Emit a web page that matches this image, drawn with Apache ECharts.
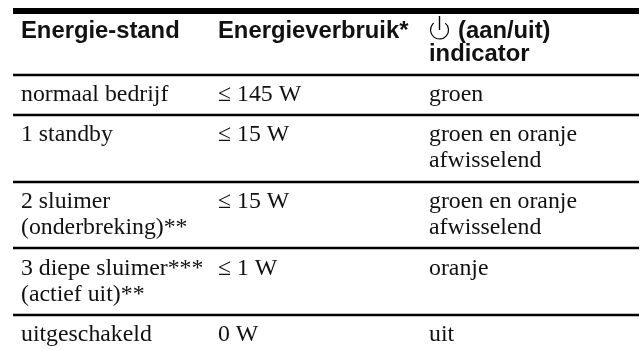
<!DOCTYPE html>
<html>
<head>
<meta charset="utf-8">
<style>
html,body{margin:0;padding:0;background:#fff;overflow:hidden;}
#chart{width:642px;height:350px;}
</style>
<script src="https://cdn.jsdelivr.net/npm/echarts@6/dist/echarts.min.js"></script>
</head>
<body>
<div id="chart"></div>
<script>
var headers = [['Energie-stand'], ['Energieverbruik*'], ['(aan/uit)', 'indicator']];
var modes = [['normaal bedrijf'], ['1 standby'], ['2 sluimer', '(onderbreking)**'], ['3 diepe sluimer***', '(actief uit)**'], ['uitgeschakeld']];
var power = [['≤ 145 W'], ['≤ 15 W'], ['≤ 15 W'], ['≤ 1 W'], ['0 W']];
var indicator = [['groen'], ['groen en oranje', 'afwisselend'], ['groen en oranje', 'afwisselend'], ['oranje'], ['uit']];

// layout of the table, in pixels
var colX = [21, 218, 429];
var ruleY = [75, 115, 182, 248, 315];
var baseY = [102, 142, 209, 276, 342];
var lineGap = 26;
var textTop = 19; // distance from the top of the text box to its baseline

var cells = [];
modes.forEach(function (m, i) {
    [m, power[i], indicator[i]].forEach(function (lines, c) {
        lines.forEach(function (t, k) {
            cells.push([colX[c], baseY[i] + k * lineGap - textTop, t, 0]);
        });
    });
});
headers.forEach(function (lines, c) {
    lines.forEach(function (t, k) {
        cells.push([c == 2 && k == 0 ? 458 : colX[c], 38 + k * 23 - textTop, t, 1]);
    });
});

var chart = echarts.init(document.getElementById('chart'));
chart.setOption({
    animation: false,
    grid: {left: 0, right: 0, top: 0, bottom: 0},
    xAxis: {type: 'value', min: 0, max: 642, show: false},
    yAxis: {type: 'value', min: 0, max: 350, inverse: true, show: false},
    series: [
        {
            type: 'custom',
            silent: true,
            data: cells,
            renderItem: function (params, api) {
                var p = api.coord([api.value(0), api.value(1)]);
                var bold = api.value(3) == 1;
                return {
                    type: 'text',
                    style: {
                        x: p[0], y: p[1],
                        text: cells[params.dataIndex][2],
                        font: bold ? 'bold 23.8px "Liberation Sans"' : '23.8px "Liberation Serif"',
                        fill: '#111',
                        verticalAlign: 'top'
                    }
                };
            }
        },
        {
            type: 'custom',
            silent: true,
            data: [[11, 6]].concat(ruleY.map(function (y) { return [y, 2.5]; })),
            renderItem: function (params, api) {
                var p = api.coord([13, api.value(0)]);
                var end = api.coord([639, api.value(0)]);
                return {
                    type: 'line',
                    shape: {x1: p[0], y1: p[1], x2: end[0], y2: p[1]},
                    style: {stroke: '#000', lineWidth: api.value(1)}
                };
            }
        },
        {
            // power symbol in front of (aan/uit)
            type: 'custom',
            silent: true,
            data: [[439.5, 30]],
            renderItem: function (params, api) {
                var p = api.coord([api.value(0), api.value(1)]);
                return {
                    type: 'group',
                    children: [
                        {type: 'arc', shape: {cx: p[0], cy: p[1], r: 9, startAngle: -Math.PI / 2 + 0.7, endAngle: -Math.PI / 2 - 0.7 + 2 * Math.PI}, style: {stroke: '#000', fill: null, lineWidth: 1.2}},
                        {type: 'line', shape: {x1: p[0], y1: p[1] - 14, x2: p[0], y2: p[1]}, style: {stroke: '#000', lineWidth: 1.4}}
                    ]
                };
            }
        }
    ]
});
</script>
</body>
</html>
